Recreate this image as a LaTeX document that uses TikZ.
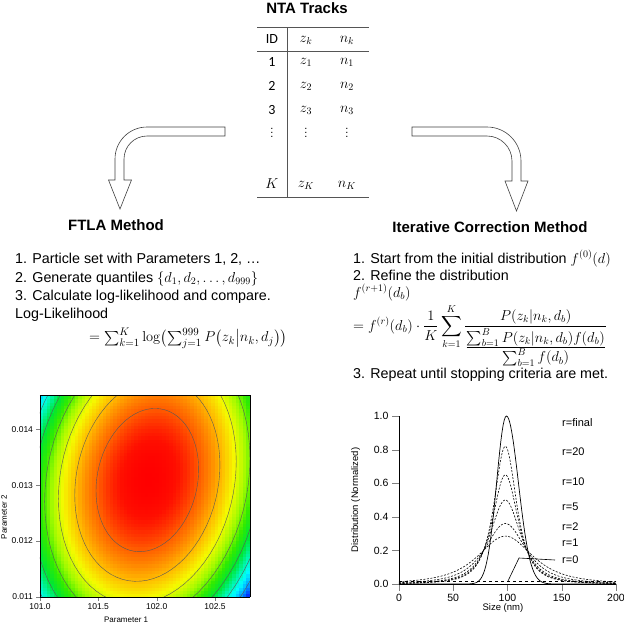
\documentclass[tikz,border=0pt]{standalone}
\usepackage{amsmath}
\usepackage[no-math]{fontspec}
\setmainfont{Liberation Sans}
\newfontfamily\calibri{Carlito}
\usepackage{pgfplots}
\pgfplotsset{compat=1.18}

\definecolor{rulegray}{RGB}{85,85,85}
\newcommand{\tdots}{\vbox{\baselineskip=4pt\lineskiplimit=0pt\hbox{.}\hbox{.}\hbox{.}}}
\pgfplotsset{
  colormap={ftla}{rgb255(0)=(255,0,0) rgb255(0.3)=(255,15,0) rgb255(1)=(255,95,0)
    rgb255(2)=(255,185,0) rgb255(2.8)=(245,250,0) rgb255(3.6)=(160,250,0)
    rgb255(4.3)=(50,235,0) rgb255(5.0)=(0,230,50) rgb255(5.7)=(0,245,170)
    rgb255(6.3)=(0,255,255) rgb255(7.0)=(0,150,255) rgb255(7.8)=(0,0,255)}
}

\begin{document}
\begin{tikzpicture}[x=1pt, y=-1pt,
  heading/.style={font=\fontsize{15}{18}\selectfont\bfseries, inner sep=0pt},
  txt/.style={font=\fontsize{14.3}{17}\selectfont, anchor=base west, inner sep=0pt},
  cell/.style={font=\fontsize{14}{16}\selectfont, inner sep=0pt},
  dotcell/.style={font=\fontsize{11}{12}\selectfont, inner sep=0pt},
  rule/.style={line width=0.8pt, draw=rulegray},
  bentarrow/.style={draw=black!75, line width=0.6pt, fill=white},
  rlabel/.style={font=\fontsize{11}{13}\selectfont, anchor=west, inner sep=0pt},
  isoline/.style={draw=black!65, line width=0.4pt},
  distcurve/.style={line width=0.6pt, dash pattern=on 2pt off 1.5pt},
]
\useasboundingbox (0,0) rectangle (624,625);

% NTA track table
\node[heading] (tracks) at (307,8) {NTA Tracks};
\draw[rule] (257,27) -- (369,27);
\draw[rule] (257,51) -- (369,51);
\draw[rule] (257,197) -- (369,197);
\draw[rule] (287,27) -- (287,197);
\node[cell] (hid) at (272,39) {\calibri ID};
\node[cell] (hz) at (306,40) {$z_k$};
\node[cell] (hn) at (347,40) {$n_k$};
\foreach \i/\yy in {1/62, 2/86, 3/110} {
  \node[cell] (id\i) at (272,\yy) {\calibri \i};
  \node[cell] (z\i) at (306,\yy) {$z_{\i}$};
  \node[cell] (n\i) at (347,\yy) {$n_{\i}$};
}
\node[dotcell] (iddots) at (272,133) {\tdots};
\node[dotcell] (zdots) at (306,133) {\tdots};
\node[dotcell] (ndots) at (347,133) {\tdots};
\node[cell] (idK) at (272,184) {$K$};
\node[cell] (zK) at (306,185) {$z_K$};
\node[cell] (nK) at (347,185) {$n_K$};

% hollow bent arrows
\draw[bentarrow] (225,127) -- (147,127) .. controls (129.3,127) and (115,141.3) .. (115,159)
  -- (115,180) -- (108.5,180) -- (120,209) -- (131.5,180) -- (124,180) -- (124,159)
  .. controls (124,146.3) and (134.3,136) .. (147,136) -- (225,136) -- cycle;
\draw[bentarrow] (412,127) -- (487,127) .. controls (505.8,127) and (521,142.2) .. (521,161)
  -- (521,181) -- (528,181) -- (516.5,211) -- (505,181) -- (512,181) -- (512,161)
  .. controls (512,147.2) and (500.8,136) .. (487,136) -- (412,136) -- cycle;

% FTLA side
\node[heading] (ftla) at (116,225) {FTLA Method};
\node[txt] (ftla1) at (15,263) {1. Particle set with Parameters 1, 2, …};
\node[txt] (ftla2) at (15,282) {2. Generate quantiles $\{d_1,d_2,\ldots,d_{999}\}$};
\node[txt] (ftla3) at (15,300) {3. Calculate log-likelihood and compare.};
\node[txt] (ftla4) at (15,318) {Log-Likelihood};
\node[txt, anchor=west, font=\fontsize{15.5}{18}\selectfont] (ftlaeq) at (89,338)
  {$=\sum_{k=1}^{K}\log\bigl(\sum_{j=1}^{999}P\bigl(z_k\big|n_k,d_j\bigr)\bigr)$};

% iterative correction side
\node[heading] (icm) at (490,227) {Iterative Correction Method};
\node[txt] (icm1) at (353,263) {1. Start from the initial distribution $f^{(0)}(d)$};
\node[txt] (icm2) at (353,280) {2. Refine the distribution};
\node[txt] (icm3) at (353,297) {$f^{(r+1)}(d_b)$};
\node[txt, anchor=west] (icmeq) at (353,335)
  {$\displaystyle = f^{(r)}(d_b)\cdot\frac{1}{K}\sum_{k=1}^{K}\frac{P(z_k|n_k,d_b)}{\genfrac{}{}{}{1}{\textstyle\sum_{b=1}^{B}P(z_k|n_k,d_b)f(d_b)}{\textstyle\sum_{b=1}^{B}f(d_b)}}$};
\node[txt] (icm4) at (353,378) {3. Repeat until stopping criteria are met.};

% plots
\coordinate (cplot) at (40,597);
\coordinate (dplot) at (399,584);
\begin{scope}[x=1cm, y=1cm]
\begin{axis}[at={(cplot)}, anchor=south west, scale only axis,
  width=210pt, height=202pt, view={0}{90},
  xmin=101, xmax=102.8, ymin=0.011, ymax=0.01461, enlargelimits=false,
  scaled x ticks=false, scaled y ticks=false,
  colormap name=ftla, point meta min=0, point meta max=7.8,
  axis on top, axis line style={line width=0.8pt},
  tick align=outside, tick pos=left, major tick length=3.5pt, ztick=\empty,
  xtick={101,101.5,102,102.5}, xticklabels={101.0,101.5,102.0,102.5},
  ytick={0.011,0.012,0.013,0.014}, yticklabels={0.011,0.012,0.013,0.014},
  tick label style={font=\fontsize{8.5}{10}\selectfont},
  label style={font=\fontsize{8}{10}\selectfont},
  xlabel={Parameter 1}, ylabel={Parameter 2},
  xlabel style={at={(axis description cs:0.41,-0.114)}, anchor=center},
  ylabel style={at={(axis description cs:-0.171,0.396)}, anchor=center},
]
  \addplot3[surf, shader=flat corner, domain=101:102.8, y domain=0.011:0.01461, samples=61]
    {(((x-101.92)/0.44)^2 - 0.3*((x-101.92)/0.44)*((y-0.01309)/0.00128)
      + ((y-0.01309)/0.00128)^2)/0.9775};
  \pgfplotsinvokeforeach{1,...,9}{
    \addplot3[isoline, domain=0:360, samples=73, samples y=1]
      ({101.92+0.44*sqrt(#1)*cos(x)},
       {0.01309+0.00128*sqrt(#1)*(0.15*cos(x)+0.9887*sin(x))}, {0});
  }
\end{axis}

\begin{axis}[at={(dplot)}, anchor=south west, scale only axis,
  width=217pt, height=168pt, xmin=0, xmax=200, ymin=0, ymax=1, clip=false,
  axis x line*=bottom, axis y line*=left, axis line style={-, line width=0.8pt},
  tick align=outside, major tick length=7pt,
  xtick={0,50,100,150,200}, xticklabels={0,50,100,150,200},
  ytick={0,0.2,0.4,0.6,0.8,1}, yticklabels={0.0,0.2,0.4,0.6,0.8,1.0},
  tick label style={font=\fontsize{10.5}{12}\selectfont},
  label style={font=\fontsize{9.5}{11}\selectfont},
  xlabel={Size (nm)}, ylabel={Distribution (Normalized)},
  xlabel style={at={(axis description cs:0.479,-0.143)}, anchor=center},
  ylabel style={at={(axis description cs:-0.2,0.5)}, anchor=center},
]
  \addplot[line width=0.6pt, dashed, domain=0:200, samples=2] {0.015};
  \addplot[distcurve, domain=0:200, samples=201] {0.285/(1+((x-98)/38.8)^2)^1.5};
  \addplot[distcurve, domain=0:200, samples=201] {0.36/(1+((x-98)/28.9)^2)^1.5};
  \addplot[distcurve, domain=0:200, samples=201] {0.50/(1+((x-98)/21.8)^2)^1.5};
  \addplot[distcurve, domain=0:200, samples=201] {0.65/(1+((x-98)/18.3)^2)^1.5};
  \addplot[distcurve, domain=0:200, samples=201] {0.82/(1+((x-98)/16)^2)^1.5};
  \addplot[line width=0.7pt, domain=0:200, samples=201]
    {exp(-((x-99)^2)/(2*(x<99 ? 9 : 11)^2))};
\end{axis}
\end{scope}

% curve labels
\node[rlabel] (rfin) at (562,423) {r=final};
\node[rlabel] (r20) at (562,452) {r=20};
\node[rlabel] (r10) at (562,482) {r=10};
\node[rlabel] (r5) at (562,507) {r=5};
\node[rlabel] (r2) at (562,527) {r=2};
\node[rlabel] (r1) at (562,543) {r=1};
\node[rlabel] (r0) at (562,560) {r=0};
\coordinate (r0bend) at (519,558);
\coordinate (r0tip) at (508,581);
\draw[line width=0.6pt] ([xshift=-7pt]r0.west) -- (r0bend) -- (r0tip);
\end{tikzpicture}
\end{document}
